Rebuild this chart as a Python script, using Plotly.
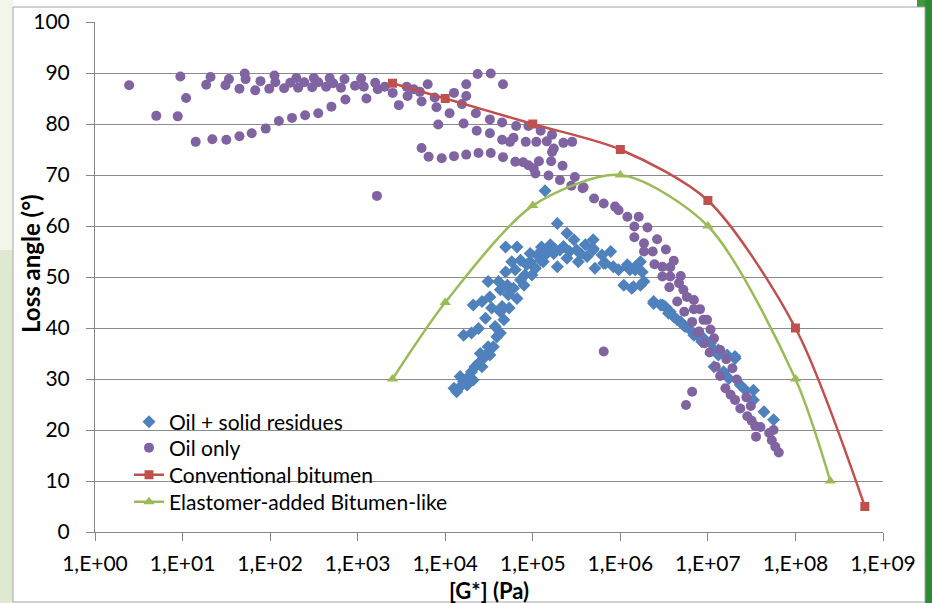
import numpy as np
import plotly.graph_objects as go

# ---------------- data ----------------
# log10 of |G*| (Pa) and loss angle (deg)
oil_solid_logG = [4.10, 4.13, 4.17, 4.21, 4.17, 4.25, 4.27, 4.30, 4.32, 4.34, 4.38, 4.40, 4.42, 4.44, 4.48, 4.49,
                  4.51, 4.55, 4.59, 4.57, 4.63, 4.21, 4.30, 4.38, 4.46, 4.53, 4.63, 4.67, 4.65, 4.73, 4.32, 4.42,
                  4.51, 4.49, 4.61, 4.63, 4.71, 4.72, 4.82, 4.78, 4.69, 4.80, 4.76, 4.86, 4.90, 4.91, 4.93, 4.86,
                  4.97, 4.99, 5.03, 4.97, 5.05, 5.10, 5.09, 5.16, 5.20, 5.24, 5.28, 5.31, 5.39, 5.39, 5.28, 5.47,
                  5.50, 5.52, 5.60, 5.62, 5.69, 5.71, 5.69, 5.79, 5.83, 5.89, 5.92, 5.98, 6.04, 6.08, 6.13, 6.17,
                  4.69, 4.82, 5.14, 5.69, 5.81, 6.08, 6.11, 6.17, 6.23, 6.25, 6.23, 6.27, 6.38, 6.46, 6.51, 6.57,
                  6.61, 6.69, 6.74, 6.80, 6.88, 6.95, 7.03, 7.12, 7.22, 7.31, 6.38, 6.48, 6.55, 6.65, 6.72, 6.84,
                  6.93, 7.07, 7.12, 7.31, 7.07, 7.18, 7.24, 7.37, 7.43, 7.52, 7.52, 7.64, 7.75, 6.15, 5.13, 5.25,
                  5.35, 5.42, 5.55, 5.12]
oil_solid_angle = [28.2, 27.5, 28.5, 29.5, 30.5, 28.8, 30.5, 31.4, 29.8, 32.4, 33.1, 35.0, 32.4, 34.1, 35.0, 36.3,
                   34.7, 36.3, 38.3, 40.3, 39.0, 38.6, 39.0, 39.9, 41.9, 43.9, 43.2, 41.6, 44.2, 43.9, 44.5, 45.2,
                   46.1, 49.1, 49.1, 47.5, 48.4, 46.5, 45.8, 47.8, 51.0, 51.4, 53.0, 49.4, 48.4, 50.4, 52.4, 53.3,
                   53.0, 50.4, 51.7, 54.6, 54.3, 55.9, 53.3, 54.6, 56.3, 54.6, 52.0, 55.3, 53.7, 58.6, 60.5, 57.3,
                   55.3, 53.0, 56.3, 54.0, 57.3, 51.7, 55.3, 54.3, 52.7, 55.0, 52.0, 51.4, 48.4, 52.4, 47.8, 51.4,
                   55.9, 55.9, 66.9, 55.6, 52.7, 52.0, 51.4, 52.0, 53.0, 51.0, 48.4, 49.1, 45.2, 44.5, 44.2, 43.2,
                   42.2, 41.2, 40.3, 39.6, 38.6, 38.0, 37.0, 35.7, 34.7, 34.4, 44.8, 44.5, 42.9, 41.6, 40.6, 38.6,
                   37.3, 35.7, 34.7, 34.0, 32.4, 31.4, 30.1, 28.8, 27.8, 27.8, 25.9, 23.6, 22.0, 48.1, 55.0, 55.5,
                   56.0, 55.0, 54.5, 53.0]

oil_only_logG = [0.39, 0.70, 0.945, 0.975, 1.04, 1.15, 1.34, 1.50, 1.65, 1.79, 1.95, 2.10, 2.25, 2.40, 2.55, 2.70,
                 2.86, 1.27, 1.32, 1.49, 1.53, 1.65, 1.71, 1.72, 1.83, 1.89, 1.99, 2.05, 2.06, 2.16, 2.23, 2.30,
                 2.32, 2.39, 2.48, 2.50, 2.55, 2.64, 2.68, 2.72, 2.81, 2.85, 2.97, 3.04, 3.10, 3.07, 3.20, 3.23,
                 3.31, 3.40, 3.47, 3.56, 3.57, 3.64, 3.71, 3.73, 3.80, 3.88, 3.90, 3.92, 4.05, 4.10, 4.19, 4.21,
                 4.24, 4.24, 4.37, 4.52, 4.66, 4.35, 4.36, 4.51, 4.51, 4.65, 4.65, 4.74, 4.78, 4.81, 4.92, 4.95,
                 5.04, 5.09, 5.16, 5.22, 5.35, 5.45, 3.73, 3.81, 3.96, 4.10, 4.24, 4.38, 4.52, 4.66, 4.80, 4.89,
                 4.95, 5.01, 5.03, 5.07, 5.18, 5.21, 5.22, 5.24, 5.31, 5.34, 5.44, 5.48, 5.58, 3.22, 5.57, 5.70,
                 5.81, 5.94, 5.98, 6.08, 6.21, 6.16, 6.31, 6.16, 6.27, 6.42, 6.27, 6.37, 6.52, 6.39, 6.48, 6.61,
                 6.57, 6.48, 6.57, 6.69, 6.67, 6.56, 6.72, 6.76, 6.84, 6.73, 6.84, 6.91, 6.82, 6.95, 7.03, 6.88,
                 6.96, 7.07, 7.02, 7.14, 5.81, 6.65, 6.90, 6.99, 7.09, 7.14, 7.21, 7.28, 7.33, 7.20, 7.26, 7.31,
                 7.37, 7.44, 7.45, 7.50, 7.54, 7.55, 7.70, 7.73, 7.77, 7.81, 6.82, 6.75, 7.49, 7.60, 7.75]
oil_only_angle = [87.6, 81.6, 81.5, 89.3, 85.1, 76.5, 77.0, 76.9, 77.6, 78.2, 79.1, 80.6, 81.2, 81.7, 82.1, 83.4,
                  84.8, 87.7, 89.2, 87.6, 88.8, 86.9, 89.9, 88.8, 86.6, 88.4, 86.9, 89.5, 88.2, 87.0, 88.1, 89.0,
                  87.1, 88.2, 87.2, 89.0, 88.2, 87.3, 89.0, 88.0, 87.1, 88.8, 87.5, 88.9, 85.0, 87.3, 88.1, 86.8,
                  87.3, 86.1, 83.7, 87.3, 85.5, 86.8, 86.3, 84.4, 87.8, 85.2, 83.3, 79.9, 82.1, 86.1, 83.9, 80.1,
                  87.8, 85.5, 89.8, 89.9, 87.8, 82.1, 78.7, 80.9, 78.2, 80.3, 76.9, 76.5, 77.3, 79.6, 76.5, 79.6,
                  76.5, 78.7, 76.6, 77.9, 76.3, 76.5, 75.3, 73.6, 73.3, 73.7, 74.0, 74.3, 74.3, 73.5, 72.6, 72.5,
                  71.9, 71.3, 70.3, 72.7, 69.9, 72.7, 74.5, 75.2, 69.0, 71.8, 67.9, 69.6, 67.6, 65.9, 67.4, 65.4,
                  64.4, 63.8, 63.1, 61.8, 61.8, 59.9, 59.7, 57.8, 56.6, 57.4, 55.0, 55.0, 55.4, 52.5, 52.0, 53.2,
                  51.9, 50.1, 50.1, 50.2, 48.8, 48.0, 47.5, 46.1, 45.5, 43.2, 43.7, 43.7, 41.2, 41.6, 39.7, 39.1,
                  37.0, 38.0, 35.2, 35.7, 35.4, 45.2, 39.3, 41.6, 32.4, 30.6, 33.9, 32.1, 29.9, 28.2, 26.9, 25.9,
                  24.2, 26.4, 22.7, 21.8, 20.8, 18.7, 19.4, 18.0, 16.7, 15.6, 27.5, 24.9, 24.7, 20.6, 20.0]

conv_G = [2.5e3, 1e4, 1e5, 1e6, 1e7, 1e8, 6.2e8]
conv_angle = [88, 85, 80, 75, 65, 40, 5]

elast_G = [2.5e3, 1e4, 1e5, 1e6, 1e7, 1e8, 2.5e8]
elast_angle = [30, 45, 64, 70, 60, 30, 10]

x_tickvals = [1, 1e1, 1e2, 1e3, 1e4, 1e5, 1e6, 1e7, 1e8, 1e9]
x_ticktext = ["1,E+00", "1,E+01", "1,E+02", "1,E+03", "1,E+04", "1,E+05", "1,E+06", "1,E+07", "1,E+08", "1,E+09"]

# ---------------- figure ----------------
FONT = "Lato"
W, H = 932, 603
L, R, T, B = 95, 49, 22, 71
pw, ph = W - L - R, H - T - B


def px_x(p):
    return (p - L) / pw


def px_y(p):
    return (H - B - p) / ph


fig = go.Figure()

fig.add_trace(go.Scatter(
    x=10 ** np.array(oil_solid_logG), y=oil_solid_angle, mode="markers",
    name="Oil + solid residues", legend="legend",
    marker=dict(symbol="diamond", size=10, color="#4F81BD", line=dict(width=0)),
))
fig.add_trace(go.Scatter(
    x=10 ** np.array(oil_only_logG), y=oil_only_angle, mode="markers",
    name="Oil only", legend="legend2",
    marker=dict(symbol="circle", size=10, color="#8064A2", line=dict(width=0)),
))
fig.add_trace(go.Scatter(
    x=conv_G, y=conv_angle, mode="lines+markers", name="Conventional bitumen", legend="legend3",
    line=dict(color="#C0504D", width=2.5, shape="spline", smoothing=0.8),
    marker=dict(symbol="square", size=9, color="#C0504D"),
))
fig.add_trace(go.Scatter(
    x=elast_G, y=elast_angle, mode="lines+markers", name="Elastomer-added Bitumen-like", legend="legend4",
    line=dict(color="#9BBB59", width=2.5, shape="spline", smoothing=0.8),
    marker=dict(symbol="triangle-up", size=10, color="#9BBB59"),
))

shapes = [
    # slide background strips
    dict(type="rect", xref="paper", yref="paper", x0=px_x(0), x1=px_x(13), y0=px_y(603), y1=px_y(250),
         fillcolor="#dfe9cf", line=dict(width=0), layer="below"),
    dict(type="rect", xref="paper", yref="paper", x0=px_x(0), x1=px_x(13), y0=px_y(250), y1=px_y(0),
         fillcolor="#f1f5ea", line=dict(width=0), layer="below"),
    dict(type="rect", xref="paper", yref="paper", x0=px_x(925), x1=px_x(932), y0=px_y(603), y1=px_y(0),
         fillcolor="#2f8a35", line=dict(width=0), layer="below"),
    dict(type="rect", xref="paper", yref="paper", x0=px_x(917), x1=px_x(925), y0=px_y(7), y1=px_y(0),
         fillcolor="#3c9a3c", line=dict(width=0), layer="below"),
    # chart border
    dict(type="rect", xref="paper", yref="paper", x0=px_x(13), x1=px_x(925), y0=px_y(602), y1=px_y(7),
         fillcolor="rgba(0,0,0,0)", line=dict(width=1, color="#a6a6a6"), layer="below"),
    # legend background (covers gridlines)
    dict(type="rect", xref="paper", yref="paper", x0=px_x(103), x1=px_x(492), y0=px_y(520), y1=px_y(398),
         fillcolor="white", line=dict(width=0), layer="between"),
]

annotations = [
    dict(text="<b>Loss angle (°)</b>", xref="paper", yref="paper", x=px_x(30), y=px_y(264),
         showarrow=False, textangle=-90, font=dict(family=FONT, size=24, color="#000000"),
         xanchor="center", yanchor="middle"),
    dict(text="<b>[G*] (Pa)</b>", xref="paper", yref="paper", x=px_x(489), y=px_y(590),
         showarrow=False, font=dict(family=FONT, size=22, color="#000000"),
         xanchor="center", yanchor="middle"),
]


def leg(row_y):
    return dict(x=px_x(129), y=px_y(row_y), xanchor="left", yanchor="middle",
                bgcolor="rgba(0,0,0,0)", borderwidth=0,
                font=dict(family=FONT, size=21, color="#000000"))


fig.update_layout(
    width=W, height=H,
    margin=dict(l=L, r=R, t=T, b=B, autoexpand=False),
    paper_bgcolor="white", plot_bgcolor="white",
    font=dict(family=FONT, size=21, color="#000000"),
    showlegend=True,
    legend=leg(422), legend2=leg(448), legend3=leg(475), legend4=leg(502),
    shapes=shapes,
    annotations=annotations,
    xaxis=dict(type="log", range=[0, 9], tickvals=x_tickvals, ticktext=x_ticktext,
               showgrid=False, zeroline=False, showline=True, linecolor="#868686", linewidth=1,
               ticks="outside", ticklen=8, tickcolor="#868686", ticklabelstandoff=5,
               tickfont=dict(family=FONT, size=21, color="#000000")),
    yaxis=dict(range=[0, 100], dtick=10, tick0=0, showgrid=True, gridcolor="#8c8c8c", gridwidth=1,
               zeroline=False, showline=True, linecolor="#868686", linewidth=1,
               ticks="outside", ticklen=8, tickcolor="#868686", ticklabelstandoff=12,
               tickfont=dict(family=FONT, size=21, color="#000000")),
)

fig.write_html("out.html", config={"displayModeBar": False})
